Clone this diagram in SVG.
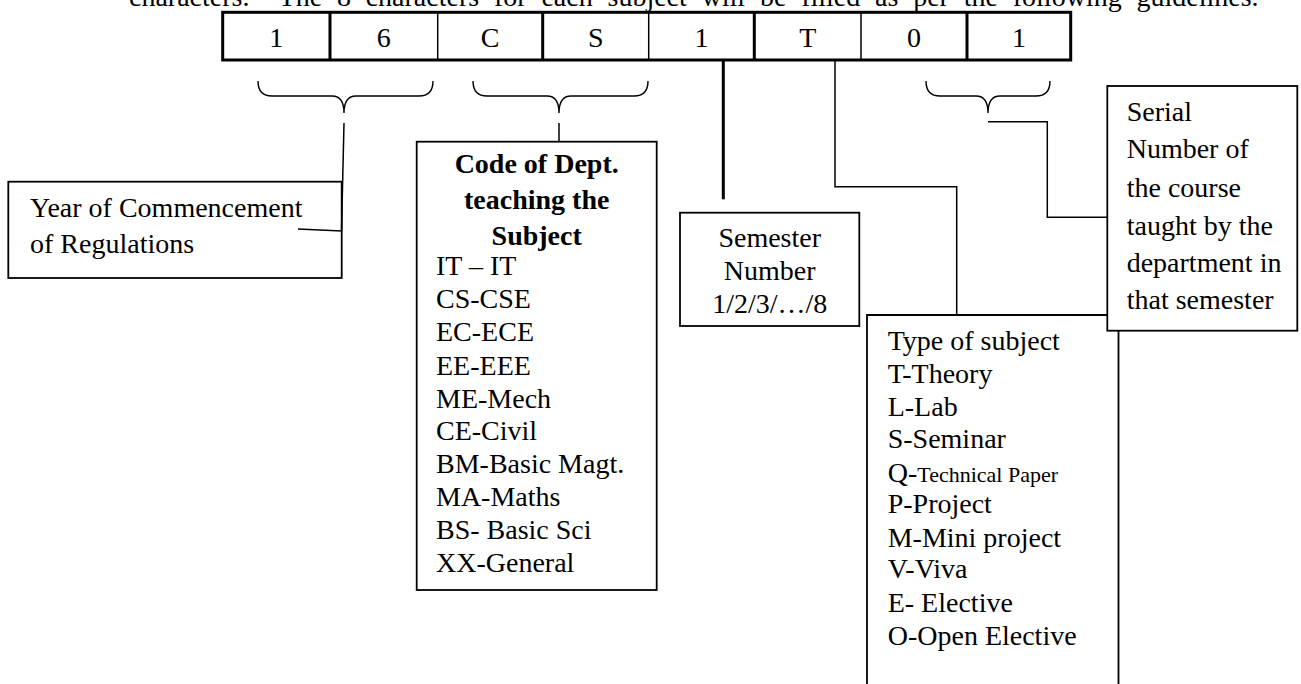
<svg xmlns="http://www.w3.org/2000/svg" width="1301" height="684" viewBox="0 0 1301 684">
<style>
text{font-family:"Liberation Serif","Times New Roman",serif;font-size:28px;fill:#000}
.b{font-weight:bold}
.c{text-anchor:middle}
.sm{font-size:22px}
.box{fill:#fff;stroke:#000;stroke-width:1.8}
.thin{fill:none;stroke:#000;stroke-width:1.5}
.thick{fill:none;stroke:#000;stroke-width:3}
.brace{fill:none;stroke:#000;stroke-width:1.4}
</style>
<rect width="1301" height="684" fill="#fff"/>
<text id="header" x="129" y="5.5" xml:space="preserve" word-spacing="7.8">characters.  The 8 characters for each subject will be filled as per the following guidelines.</text>
<g id="code-table">
<rect x="222.7" y="12.3" width="848" height="47.7" class="thick" stroke-width="2.6"/>
<line x1="330" y1="12.3" x2="330" y2="60" class="thick" stroke-width="2.5"/>
<line x1="437.7" y1="12.3" x2="437.7" y2="60" class="thin"/>
<line x1="542.7" y1="12.3" x2="542.7" y2="60" class="thick" stroke-width="2.5"/>
<line x1="648.7" y1="12.3" x2="648.7" y2="60" class="thin"/>
<line x1="754.3" y1="12.3" x2="754.3" y2="60" class="thick" stroke-width="2.5"/>
<line x1="861" y1="12.3" x2="861" y2="60" class="thin"/>
<line x1="967" y1="12.3" x2="967" y2="60" class="thick" stroke-width="2.5"/>
<text class="c" x="276.3" y="46.5">1</text>
<text class="c" x="383.8" y="46.5">6</text>
<text class="c" x="490.2" y="46.5">C</text>
<text class="c" x="595.7" y="46.5">S</text>
<text class="c" x="701.5" y="46.5">1</text>
<text class="c" x="807.7" y="46.5">T</text>
<text class="c" x="914" y="46.5">0</text>
<text class="c" x="1018.9" y="46.5">1</text>
</g>
<g id="braces">
<path class="brace" d="M258,81 Q258,96 272,96 L332,96 Q344,96 344,113 Q344,96 356,96 L419,96 Q433,96 433,81"/>
<path class="brace" d="M473,81 Q473,96 487,96 L547,96 Q559,96 559,113 Q559,96 571,96 L634,96 Q648,96 648,81"/>
<path class="brace" d="M926,81 Q926,96 940,96 L976,96 Q988,96 988,113 Q988,96 1000,96 L1036,96 Q1050,96 1050,81"/>
</g>
<g id="connectors">
<polyline class="thin" points="344,123 341.5,231 298,229"/>
<line class="thin" x1="559" y1="123" x2="559" y2="141.7"/>
<line class="thick" x1="723.3" y1="60" x2="723.3" y2="199.3"/>
<polyline class="thin" points="835,60 835,186.7 956.7,186.7 956.7,315"/>
<polyline class="thin" points="988,121.7 1047.3,121.7 1047.3,217.3 1107.3,217.3"/>
</g>
<g id="year-box">
<rect class="box" x="8.3" y="181.7" width="333.4" height="96.3" style="fill:none"/>
<text x="30" y="216.7">Year of Commencement</text>
<text x="30" y="253">of Regulations</text>
</g>
<g id="dept-box">
<rect class="box" x="416.7" y="141.7" width="240" height="448.3"/>
<text class="b c" x="536.7" y="173.3">Code of Dept.</text>
<text class="b c" x="536.7" y="209">teaching the</text>
<text class="b c" x="536.7" y="245">Subject</text>
<text x="436" y="275">IT – IT</text>
<text x="436" y="308">CS-CSE</text>
<text x="436" y="341">EC-ECE</text>
<text x="436" y="374.5">EE-EEE</text>
<text x="436" y="407.5">ME-Mech</text>
<text x="436" y="440">CE-Civil</text>
<text x="436" y="473">BM-Basic Magt.</text>
<text x="436" y="506">MA-Maths</text>
<text x="436" y="539">BS- Basic Sci</text>
<text x="436" y="572">XX-General</text>
</g>
<g id="semester-box">
<rect class="box" x="680" y="212.7" width="179.3" height="113.3"/>
<text class="c" x="769.7" y="246.7">Semester</text>
<text class="c" x="769.7" y="280">Number</text>
<text class="c" x="769.7" y="313.3">1/2/3/…/8</text>
</g>
<g id="type-box">
<path class="box" d="M867,690 L867,315 L1118.5,315 L1118.5,690"/>
<text x="887.7" y="350">Type of subject</text>
<text x="887.7" y="383.3">T-Theory</text>
<text x="887.7" y="416">L-Lab</text>
<text x="887.7" y="448.3">S-Seminar</text>
<text x="887.7" y="481.7">Q-<tspan class="sm">Technical Paper</tspan></text>
<text x="887.7" y="513.3">P-Project</text>
<text x="887.7" y="546.7">M-Mini project</text>
<text x="887.7" y="578.3">V-Viva</text>
<text x="887.7" y="611.7">E- Elective</text>
<text x="887.7" y="645">O-Open Elective</text>
</g>
<g id="serial-box">
<rect class="box" x="1107.3" y="86" width="190" height="244.7"/>
<text x="1126.7" y="121">Serial</text>
<text x="1126.7" y="158.3">Number of</text>
<text x="1126.7" y="196.7">the course</text>
<text x="1126.7" y="235">taught by the</text>
<text x="1126.7" y="271.7">department in</text>
<text x="1126.7" y="309.3">that semester</text>
</g>
</svg>
